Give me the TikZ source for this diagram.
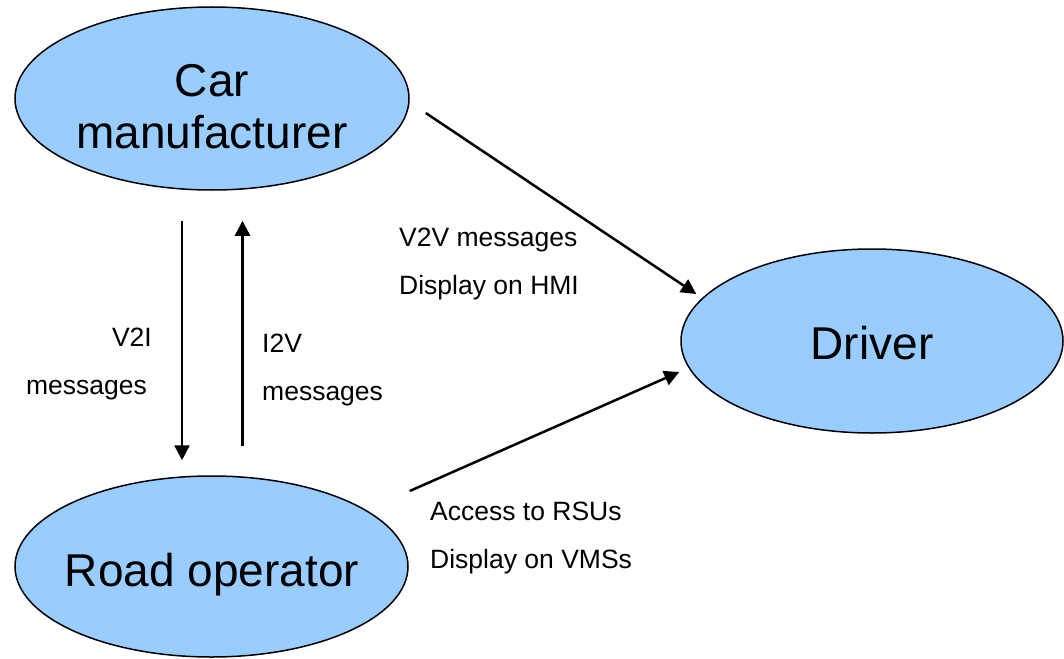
\documentclass[tikz,border=0pt]{standalone}
\usepackage{fontspec}
\setmainfont{Liberation Sans}
\usetikzlibrary{shapes.geometric,arrows.meta}
\definecolor{blobblue}{RGB}{153,204,255}
\begin{document}
\begin{tikzpicture}[x=1pt,y=-1pt,
  blob/.style={ellipse,draw=black,line width=1.5pt,fill=blobblue,inner sep=0pt},
  big/.style={font=\fontsize{46}{52}\selectfont,inner sep=0pt,anchor=base,align=center},
  small/.style={font=\fontsize{26.5}{47.5}\selectfont,inner sep=0pt},
  flow/.style={line width=2.5pt,-{Triangle[length=15pt,width=15pt]}}]
\useasboundingbox (0,0) rectangle (1064,658);

% actors
\node[blob,minimum width=394pt,minimum height=183pt] (car) at (212,98.5) {};
\node[blob,minimum width=393pt,minimum height=181pt] (road) at (211.5,566.5) {};
\node[blob,minimum width=382pt,minimum height=184pt] (driver) at (872,341) {};

% the base anchor of a multi-line node sits on its last line
\node[big] (carlbl) at (212,148) {Car\\manufacturer};
\node[big] (roadlbl) at (212,586) {Road operator};
\node[big] (driverlbl) at (872,359) {Driver};

% message flows
\draw[flow] ([shift={(-30,30)}]car.south) -- ([shift={(-29.5,-15)}]road.north);
\draw[flow] ([shift={(31,-29)}]road.north) -- ([shift={(30.5,30)}]car.south);
\draw[flow] ([shift={(16,14.5)}]car.east) -- ([shift={(16,-47)}]driver.west);
\draw[flow] ([shift={(1,-75.5)}]road.east) -- ([shift={(-1,31)}]driver.west);

% flow labels
\node[small,anchor=base west,align=left] (v2v) at (399,294) {V2V messages\\Display on HMI};
\node[small,anchor=base east,align=right] (v2i) at (147,394) {V2I\hspace*{-5pt}\\messages};
\node[small,anchor=base west,align=left] (i2v) at (262,400) {I2V\\messages};
\node[small,anchor=base west,align=left] (rsu) at (430,568) {Access to RSUs\\Display on VMSs};
\end{tikzpicture}
\end{document}
